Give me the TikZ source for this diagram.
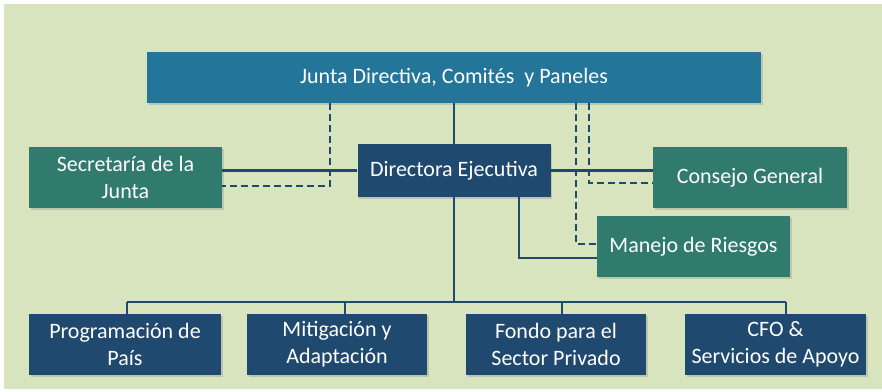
\documentclass[tikz,border=0pt]{standalone}
\usepackage{fontspec}
\setmainfont{Carlito}
\usetikzlibrary{shadows}
\definecolor{bgc}{HTML}{D8E4BE}
\definecolor{topc}{HTML}{23759A}
\definecolor{navyc}{HTML}{1F496E}
\definecolor{tealc}{HTML}{317A6E}
\definecolor{linec}{HTML}{1F4A70}
\begin{document}
\begin{tikzpicture}[x=1pt,y=-1pt,
  box/.style={inner sep=0pt, text=white, align=center, font=\fontsize{22}{27}\selectfont,
    drop shadow={opacity=0.3, shadow xshift=1.5pt, shadow yshift=-1.5pt}},
  topbox/.style={box, fill=topc, minimum width=614pt, minimum height=51pt},
  navybox/.style={box, fill=navyc, minimum height=61pt},
  tealbox/.style={box, fill=tealc, minimum width=193pt, minimum height=61pt},
  conn/.style={draw=linec, line width=2.4pt},
  dconn/.style={draw=linec, line width=2.4pt, dash pattern=on 7pt off 4pt}]
\useasboundingbox (0,0) rectangle (882,391);
\fill[white] (0,0) rectangle (882,391);
\fill[bgc] (4,4) rectangle (882,389);
% nodes
\node[topbox] (top) at (454,77.5) {Junta Directiva, Comités\ \ y Paneles};
\node[navybox, minimum width=193pt, minimum height=53pt] (dir) at (454,170.5) {Directora Ejecutiva};
\node[tealbox] (sec) at (125.5,177.5) {Secretaría de la\\Junta};
\node[tealbox, minimum width=194pt] (cons) at (750,177.5) {Consejo General};
\node[tealbox] (man) at (693.5,246.5) {Manejo de Riesgos};
\node[navybox, minimum width=192pt] (b1) at (125,344.5) {Programación de\\País};
\node[navybox, minimum width=180pt] (b2) at (337,344.5) {Mitigación y\\Adaptación};
\node[navybox, minimum width=180pt] (b3) at (556,344.5) {Fondo para el\\Sector Privado};
\node[navybox, minimum width=181pt] (b4) at (775.5,344.5) {CFO \&\\Servicios de Apoyo};
% helper coordinates
\coordinate (bus) at (454,302);
\coordinate (busl) at (127,302);
\coordinate (busr) at (786,302);
\coordinate (x2) at (345,0);
\coordinate (x3) at (562,0);
\coordinate (dlx) at (330,0);
\coordinate (dcx) at (589,0);
\coordinate (dmx) at (576,0);
\coordinate (smx) at (519,0);
% solid connectors
\draw[conn] (top.south) -- (dir.north);
\draw[conn] (dir.south) -- (bus);
\draw[conn] (dir.west) -- (dir.west -| sec.east);
\draw[conn] (dir.east) -- (dir.east -| cons.west);
\draw[conn] (dir.south -| smx) |- ([yshift=-11.5pt]man.west);
\draw[conn] (busl) -- (busr);
\draw[conn] (busl) -- (busl |- b1.north);
\draw[conn] (bus -| x2) -- (x2 |- b2.north);
\draw[conn] (bus -| x3) -- (x3 |- b3.north);
\draw[conn] (busr) -- (busr |- b4.north);
% dashed connectors
\draw[dconn] (top.south -| dlx) |- ([yshift=-8.5pt]sec.east);
\draw[dconn] (top.south -| dcx) |- ([yshift=-5.5pt]cons.west);
\draw[dconn] (top.south -| dmx) |- ([yshift=2.5pt]man.west);
\end{tikzpicture}
\end{document}
